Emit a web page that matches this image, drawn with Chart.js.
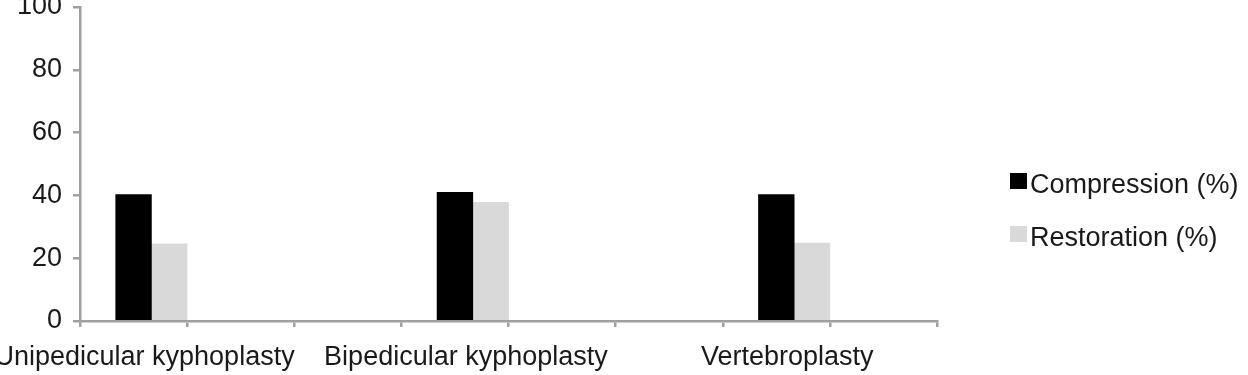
<!DOCTYPE html>
<html>
<head>
<meta charset="utf-8">
<script src="https://cdn.jsdelivr.net/npm/chart.js@4"></script>
<style>
  body { margin: 0; background: #fff; }
  #wrap { position: relative; width: 1248px; height: 375px; }
  #legend { position: absolute; left: 1010px; top: 171px; font-family: 'Liberation Sans', Arial, sans-serif; font-size: 27px; color: #1a1a1a; }
  .row { display: flex; align-items: flex-start; height: 53px; line-height: 27px; }
  .box { width: 17px; height: 16px; margin-top: 2px; margin-right: 3px; }
</style>
</head>
<body>
<div id="wrap">
  <canvas id="chart" width="1248" height="375"></canvas>
  <div id="legend"></div>
</div>
<script>
// 8 category slots on the axis, only three carry a name
const categories = ['Unipedicular kyphoplasty', '', '', 'Bipedicular kyphoplasty', '', '', 'Vertebroplasty', ''];
const compression = [40.3, null, null, 41, null, null, 40.3, null];
const restoration = [24.6, null, null, 37.8, null, null, 24.8, null];
const spacer = [null, null, null, null, null, null, null, null];
const yTicks = [0, 20, 40, 60, 80, 100];

const axisColor = '#a0a0a0';
const textColor = '#1a1a1a';
const font = { family: "'Liberation Sans', Arial, sans-serif", size: 27 };

const ctx = document.getElementById('chart').getContext('2d');

const chart = new Chart(ctx, {
    type: 'bar',
    data: {
        labels: categories,
        datasets: [
            { label: '', data: spacer, backgroundColor: 'rgba(0,0,0,0)' },
            { label: 'Compression (%)', data: compression, backgroundColor: '#000000' },
            { label: 'Restoration (%)', data: restoration, backgroundColor: '#d9d9d9' }
        ]
    },
    options: {
        responsive: false,
        animation: false,
        categoryPercentage: 1,
        barPercentage: 1,
        layout: { padding: { top: 7, right: 311, left: 0, bottom: 0 } },
        plugins: {
            legend: { display: false },
            tooltip: { enabled: false }
        },
        scales: {
            x: {
                offset: true,
                grid: { display: true, drawOnChartArea: false, drawTicks: true, tickLength: 6, color: axisColor, lineWidth: 2.5, offset: true },
                border: { color: axisColor, width: 2.5 },
                ticks: { autoSkip: false, maxRotation: 0, minRotation: 0, color: textColor, font: font, padding: 14, labelOffset: 11 },
                afterFit: function (s) {
                    s.height = 54;
                    s.paddingLeft = 0;
                    s.paddingRight = 0;
                }
            },
            y: {
                min: 0,
                max: 100,
                afterBuildTicks: function (s) {
                    s.ticks = yTicks.map(v => ({ value: v }));
                },
                grid: { display: true, drawOnChartArea: false, drawTicks: true, tickLength: 7, color: axisColor, lineWidth: 2.5 },
                border: { color: axisColor, width: 2.5 },
                ticks: { color: textColor, font: font, padding: 11 },
                afterFit: function (s) {
                    s.width = 80;
                    s.paddingTop = 0;
                    s.paddingBottom = 0;
                }
            }
        }
    }
});

// legend built from the datasets
const legend = document.getElementById('legend');
chart.data.datasets.forEach(function (ds) {
    if (!ds.label) return;
    const row = document.createElement('div');
    row.className = 'row';
    row.innerHTML = '<span class="box" style="background:' + ds.backgroundColor + '"></span><span>' + ds.label + '</span>';
    legend.appendChild(row);
});
</script>
</body>
</html>
